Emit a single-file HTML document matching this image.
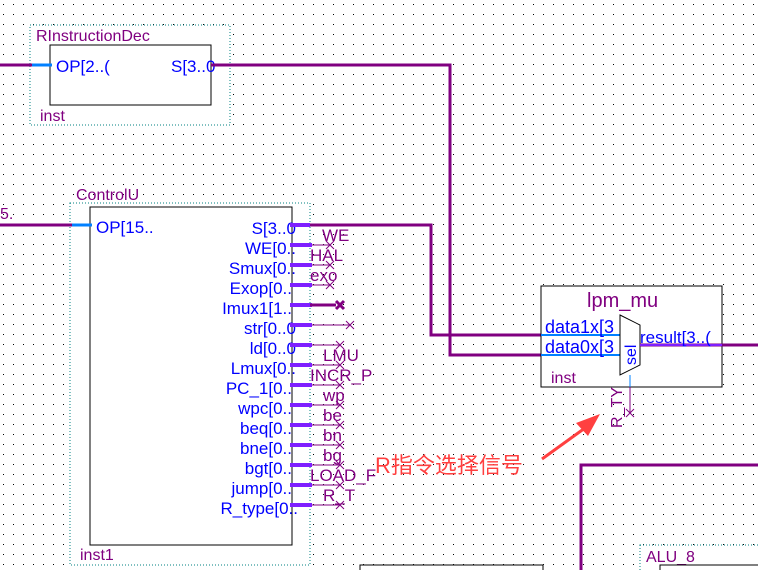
<!DOCTYPE html>
<html><head><meta charset="utf-8"><style>
html,body{margin:0;padding:0;background:#fff;}
svg{display:block;}
text{font-family:"Liberation Sans","Noto Sans CJK SC",sans-serif;}
</style></head><body>
<svg width="758" height="570" xmlns="http://www.w3.org/2000/svg">
<defs>
<pattern id="g" x="3" y="4" width="10" height="10" patternUnits="userSpaceOnUse">
<rect x="0" y="0" width="1" height="1" fill="#000"/>
</pattern>
</defs>
<rect width="758" height="570" fill="url(#g)"/>

<!-- RInstructionDecoder -->
<rect x="30" y="25" width="200" height="100" fill="#fff" stroke="#008080" stroke-dasharray="1,2"/>
<rect x="50" y="45" width="161" height="60" fill="#fff" stroke="#000"/>
<text x="36" y="41" font-size="16" fill="#800080">RInstructionDec</text>
<text x="40" y="121" font-size="16" fill="#800080">inst</text>
<line x1="0" y1="65" x2="32" y2="65" stroke="#800080" stroke-width="3"/>
<line x1="32" y1="65" x2="52" y2="65" stroke="#0080ff" stroke-width="3"/>
<text x="56" y="72" font-size="17" fill="#0000ff">OP[2..(</text>
<text x="171" y="72" font-size="17" fill="#0000ff">S[3..0</text>
<polyline points="211,65 450,65 450,355 545,355" fill="none" stroke="#800080" stroke-width="3"/>

<!-- ControlU -->
<rect x="70" y="203" width="240" height="362" fill="#fff" stroke="#008080" stroke-dasharray="1,2"/>
<rect x="90" y="207" width="202" height="338" fill="#fff" stroke="#000"/>
<text x="76" y="200" font-size="16" fill="#800080">ControlU</text>
<text x="80" y="560" font-size="16" fill="#800080">inst1</text>
<text x="0" y="219" font-size="16" fill="#800080">5.</text>
<line x1="0" y1="225" x2="72" y2="225" stroke="#800080" stroke-width="3"/>
<line x1="72" y1="225" x2="92" y2="225" stroke="#0080ff" stroke-width="3"/>
<text x="96" y="233" font-size="17" fill="#0000ff">OP[15..</text>

<polyline points="292,225 431,225 431,335 545,335" fill="none" stroke="#800080" stroke-width="3"/>

<g font-size="17" fill="#0000ff" text-anchor="end">
<text x="296" y="234">S[3..0</text>
<text x="296" y="254">WE[0..</text>
<text x="296" y="274">Smux[0..</text>
<text x="292" y="294">Exop[0..</text>
<text x="292" y="314">Imux1[1..</text>
<text x="296" y="334">str[0..0</text>
<text x="296" y="354">ld[0..0</text>
<text x="296" y="374">Lmux[0..</text>
<text x="292" y="394">PC_1[0..</text>
<text x="292" y="414">wpc[0..</text>
<text x="292" y="434">beq[0..</text>
<text x="292" y="454">bne[0..</text>
<text x="292" y="474">bgt[0..</text>
<text x="292" y="494">jump[0..</text>
<text x="298" y="514">R_type[0..</text>
</g>
<g stroke="#7f1fff" stroke-width="4">
<line x1="290" y1="245" x2="312" y2="245"/><line x1="290" y1="265" x2="312" y2="265"/>
<line x1="290" y1="285" x2="312" y2="285"/><line x1="290" y1="305" x2="312" y2="305"/>
<line x1="290" y1="325" x2="312" y2="325"/><line x1="290" y1="345" x2="312" y2="345"/>
<line x1="290" y1="365" x2="312" y2="365"/><line x1="290" y1="385" x2="312" y2="385"/>
<line x1="290" y1="405" x2="312" y2="405"/><line x1="290" y1="425" x2="312" y2="425"/>
<line x1="290" y1="445" x2="312" y2="445"/><line x1="290" y1="465" x2="312" y2="465"/>
<line x1="290" y1="485" x2="312" y2="485"/><line x1="290" y1="505" x2="312" y2="505"/>
<line x1="290" y1="225" x2="310" y2="225"/>
</g>
<g stroke="#800080" stroke-width="1" fill="none">
<path d="M312 245H330M326 241l8 8M334 241l-8 8"/>
<path d="M312 265H330M326 261l8 8M334 261l-8 8"/>
<path d="M312 285H330M326 281l8 8M334 281l-8 8"/>
<path d="M312 325H350M346 321l8 8M354 321l-8 8"/>
<path d="M312 345H340M336 341l8 8M344 341l-8 8"/>
<path d="M312 365H340M336 361l8 8M344 361l-8 8"/>
<path d="M312 385H340M336 381l8 8M344 381l-8 8"/>
<path d="M312 405H340M336 401l8 8M344 401l-8 8"/>
<path d="M312 425H340M336 421l8 8M344 421l-8 8"/>
<path d="M312 445H340M336 441l8 8M344 441l-8 8"/>
<path d="M312 465H340M336 461l8 8M344 461l-8 8"/>
<path d="M312 485H340M336 481l8 8M344 481l-8 8"/>
<path d="M312 505H340M336 501l8 8M344 501l-8 8"/>
</g>
<path d="M310 305H336M336 301l8 8M344 301l-8 8" stroke="#800080" stroke-width="3" fill="none"/>
<g font-size="17" fill="#800080">
<text x="322" y="241">WE</text>
<text x="310" y="261">HAL</text>
<text x="310" y="281">exo</text>
<text x="323" y="361">LMU</text>
<text x="310" y="381">INCR_P</text>
<text x="323" y="401">wp</text>
<text x="323" y="421">be</text>
<text x="323" y="441">bn</text>
<text x="323" y="461">bg</text>
<text x="310" y="481">LOAD_F</text>
<text x="323" y="501">R_T</text>
</g>

<!-- lpm_mux -->
<rect x="541" y="286" width="181" height="101" fill="#fff" stroke="#000"/>
<text x="587" y="307" font-size="20" fill="#800080">lpm_mu</text>
<text x="551" y="383" font-size="16" fill="#800080">inst</text>
<line x1="541" y1="335" x2="622" y2="335" stroke="#0080ff" stroke-width="2"/>
<line x1="541" y1="355" x2="622" y2="355" stroke="#0080ff" stroke-width="2"/>
<text x="545" y="333" font-size="18" fill="#0000ff">data1x[3</text>
<text x="545" y="353" font-size="18" fill="#0000ff">data0x[3</text>
<polygon points="620,315 640,325 640,365 620,375" fill="#fff" stroke="#000"/>
<text transform="translate(636,365) rotate(-90)" font-size="16" fill="#0000ff">sel</text>
<line x1="640" y1="345" x2="758" y2="345" stroke="#800080" stroke-width="3"/>
<line x1="640" y1="345" x2="722" y2="345" stroke="#7f1fff" stroke-width="2"/>
<text x="640" y="343" font-size="17" fill="#0000ff">result[3..(</text>
<line x1="630" y1="375" x2="630" y2="387" stroke="#0080ff"/>
<line x1="630" y1="387" x2="630" y2="413" stroke="#800080"/>
<path d="M626 409l8 8M634 409l-8 8" stroke="#800080"/>
<text transform="translate(622,428) rotate(-90)" font-size="16" fill="#800080">R_TY</text>

<!-- annotation -->
<line x1="542" y1="459" x2="585" y2="428" stroke="#ff4040" stroke-width="3"/>
<polygon points="600,414 576,423 588,436" fill="#ff4040"/>
<text x="375" y="473" font-size="22" fill="#ff4040">R指令选择信号</text>

<!-- bottom right -->
<polyline points="581,570 581,465 758,465" fill="none" stroke="#800080" stroke-width="3"/>
<rect x="640" y="545" width="130" height="40" fill="#fff" stroke="#008080" stroke-dasharray="1,2"/>
<text x="646" y="562" font-size="16" fill="#800080">ALU_8</text>
<rect x="660" y="565" width="110" height="20" fill="#fff" stroke="#000"/>
<rect x="360" y="565" width="183" height="20" fill="#fff" stroke="#000"/>
</svg>
</body></html>
